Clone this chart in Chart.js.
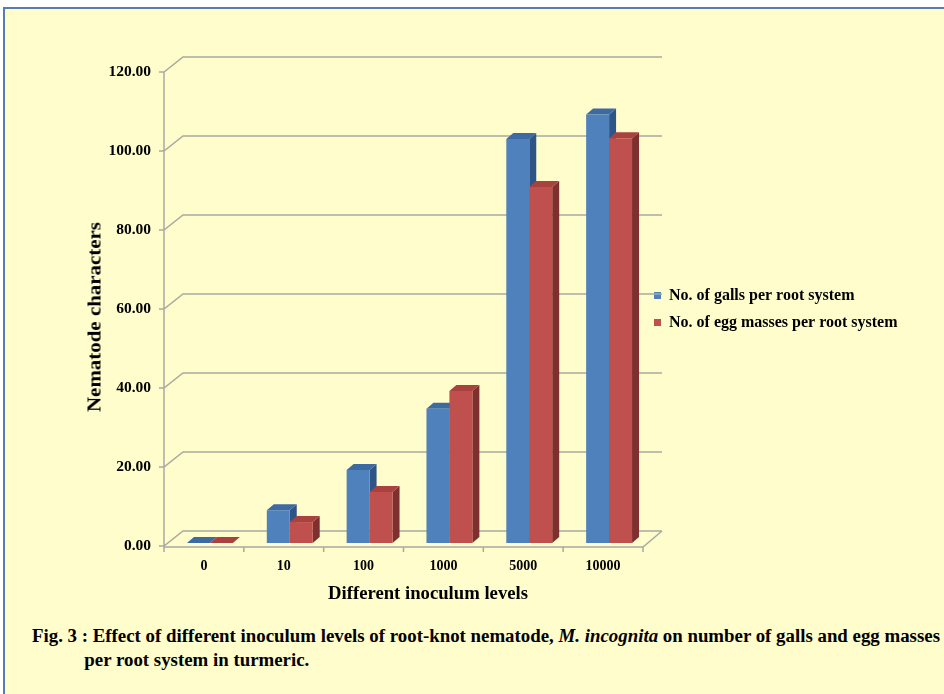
<!DOCTYPE html>
<html>
<head>
<meta charset="utf-8">
<script src="https://cdn.jsdelivr.net/npm/chart.js@4"></script>
<style>
  html, body { margin: 0; padding: 0; background: #fff; }
  body { width: 944px; height: 694px; overflow: hidden; position: relative; font-family: "Liberation Serif", "DejaVu Serif", serif; }
  #frame { position: absolute; left: 3px; top: 7px; width: 980px; height: 720px; background: #FFFDCB; border-left: 2px solid #5B7DAE; border-top: 2px solid #5B7DAE; }
  #chart { position: absolute; left: 0; top: 0; }
  .ttl { position: absolute; font-weight: bold; font-size: 18px; color: #000; white-space: nowrap; }
  #ytitle { left: 95px; top: 317px; }
  #xtitle { left: 428px; top: 593px; }
  #caption { position: absolute; left: 32px; top: 624px; font-weight: bold; font-size: 18px; line-height: 24px; color: #000; white-space: nowrap; transform-origin: 0 0; }
  #caption .l2 { padding-left: 50px; }
</style>
</head>
<body>
<div id="frame"></div>
<canvas id="chart" width="944" height="620"></canvas>
<div class="ttl" id="ytitle">Nematode characters</div>
<div class="ttl" id="xtitle">Different inoculum levels</div>
<div id="caption">
  <div class="l1">Fig. 3 : Effect of different inoculum levels of root-knot nematode, <i>M. incognita</i> on number of galls and egg masses</div>
  <div class="l2">per root system in turmeric.</div>
</div>
<script>
const inoculumLevels = ['0', '10', '100', '1000', '5000', '10000'];
const gallsPerRoot = [0, 8.3, 18.5, 34, 102.3, 108.5];
const eggMassesPerRoot = [0, 5.3, 12.9, 38.5, 90.1, 102.5];
const yTicks = [0, 20, 40, 60, 80, 100, 120];

// oblique depth of the back wall and of each bar
const wall = { dx: 19, dy: -15 };
const barDepth = { dx: 7, dy: -6 };
const barShift = { dx: 6, dy: -3 };
const faceColors = [
  { top: '#3D6AA3', side: '#2F5587' },
  { top: '#A9423F', side: '#7D302D' }
];
const serif = '"Liberation Serif"';

const box3d = {
  id: 'box3d',
  beforeDatasetsDraw(chart) {
    const { ctx, chartArea: a, scales: { y } } = chart;
    ctx.save();
    ctx.strokeStyle = '#A9A9A2';
    ctx.lineWidth = 1.5;
    ctx.beginPath();
    yTicks.forEach(v => {
      const py = y.getPixelForValue(v);
      ctx.moveTo(a.left - 5, py);
      ctx.lineTo(a.left, py);
      ctx.lineTo(a.left + wall.dx, py + wall.dy);
      ctx.lineTo(a.right + wall.dx, py + wall.dy);
    });
    ctx.moveTo(a.left, a.top);
    ctx.lineTo(a.left, a.bottom + 1);
    ctx.lineTo(a.right, a.bottom + 1);
    ctx.lineTo(a.right + wall.dx, a.bottom + wall.dy);
    const n = inoculumLevels.length;
    for (let i = 0; i <= n; i++) {
      const px = a.left + (a.right - a.left) * i / n;
      ctx.moveTo(px, a.bottom + 1);
      ctx.lineTo(px, a.bottom + 6);
    }
    ctx.stroke();
    ctx.restore();

    // side and top faces go under the front faces drawn by the library
    ctx.save();
    ctx.translate(barShift.dx, barShift.dy);
    const metas = chart.getSortedVisibleDatasetMetas();
    for (let i = 0; i < n; i++) {
      metas.forEach((meta, d) => {
        const { x: bx, y: by, base, width } = meta.data[i].getProps(['x', 'y', 'base', 'width'], true);
        const l = bx - width / 2, r = bx + width / 2;
        ctx.fillStyle = faceColors[d].side;
        ctx.beginPath();
        ctx.moveTo(r, by);
        ctx.lineTo(r + barDepth.dx, by + barDepth.dy);
        ctx.lineTo(r + barDepth.dx, base + barDepth.dy);
        ctx.lineTo(r, base);
        ctx.closePath();
        ctx.fill();
        ctx.fillStyle = faceColors[d].top;
        ctx.beginPath();
        ctx.moveTo(l, by);
        ctx.lineTo(r, by);
        ctx.lineTo(r + barDepth.dx, by + barDepth.dy);
        ctx.lineTo(l + barDepth.dx, by + barDepth.dy);
        ctx.closePath();
        ctx.fill();
      });
    }
    // translation stays on for the front faces, undone after
  },
  afterDatasetsDraw(chart) {
    chart.ctx.restore();
  }
};

const chart = new Chart(document.getElementById('chart'), {
  type: 'bar',
  data: {
    labels: inoculumLevels,
    datasets: [{
      label: 'No. of galls per root system',
      data: gallsPerRoot,
      backgroundColor: '#4F81BD',
      borderWidth: 0,
      categoryPercentage: 0.575,
      barPercentage: 1
    }, {
      label: 'No. of egg masses per root system',
      data: eggMassesPerRoot,
      backgroundColor: '#C0504D',
      borderWidth: 0,
      categoryPercentage: 0.575,
      barPercentage: 1
    }]
  },
  options: {
    responsive: false,
    devicePixelRatio: 1,
    animation: false,
    layout: { padding: { left: 0, top: 72, right: 20, bottom: 40 } },
    scales: {
      x: {
        grid: { display: false, drawTicks: false },
        border: { display: false },
        ticks: { color: '#000', padding: 12, font: { family: serif, size: 14, weight: 'bold' } }
      },
      y: {
        min: 0,
        max: 120,
        grid: { display: false, drawTicks: false },
        border: { display: false },
        afterBuildTicks: s => { s.ticks = yTicks.map(v => ({ value: v })); },
        afterFit: s => { s.width = 164; },
        ticks: {
          color: '#000',
          padding: 13,
          font: { family: serif, size: 15.5, weight: 'bold' },
          callback: v => v.toFixed(2)
        }
      }
    },
    plugins: {
      tooltip: { enabled: false },
      legend: {
        position: 'right',
        align: 'center',
        fullSize: false,
        maxWidth: 400,
        labels: {
          color: '#000',
          boxWidth: 7,
          boxHeight: 7,
          padding: 11,
          font: { family: serif, size: 16, weight: 'bold' }
        }
      }
    }
  },
  plugins: [box3d]
});

// settle the plot area on the intended box
const target = { top: 72, right: 643, bottom: 546 };
for (let k = 0; k < 3; k++) {
  const a = chart.chartArea, p = chart.options.layout.padding;
  p.top += target.top - a.top;
  p.right += a.right - target.right;
  p.bottom += a.bottom - target.bottom;
  chart.update('none');
}

// stretch a text block along its line to a given length
function fitText(el, len, cx, cy, rotate) {
  const w = el.getBoundingClientRect().width;
  const k = len / w;
  el.style.transform = 'translate(-50%, -50%)' + (rotate ? ' rotate(-90deg)' : '') + ' scaleX(' + k + ')';
  el.style.left = cx + 'px';
  el.style.top = cy + 'px';
}
fitText(document.getElementById('ytitle'), 190, 95, 317, true);
fitText(document.getElementById('xtitle'), 200, 428, 593, false);

const cap = document.getElementById('caption');
const w = cap.querySelector('.l1').getBoundingClientRect().width;
cap.style.transform = 'scaleX(' + (908 / w) + ')';
</script>
</body>
</html>
